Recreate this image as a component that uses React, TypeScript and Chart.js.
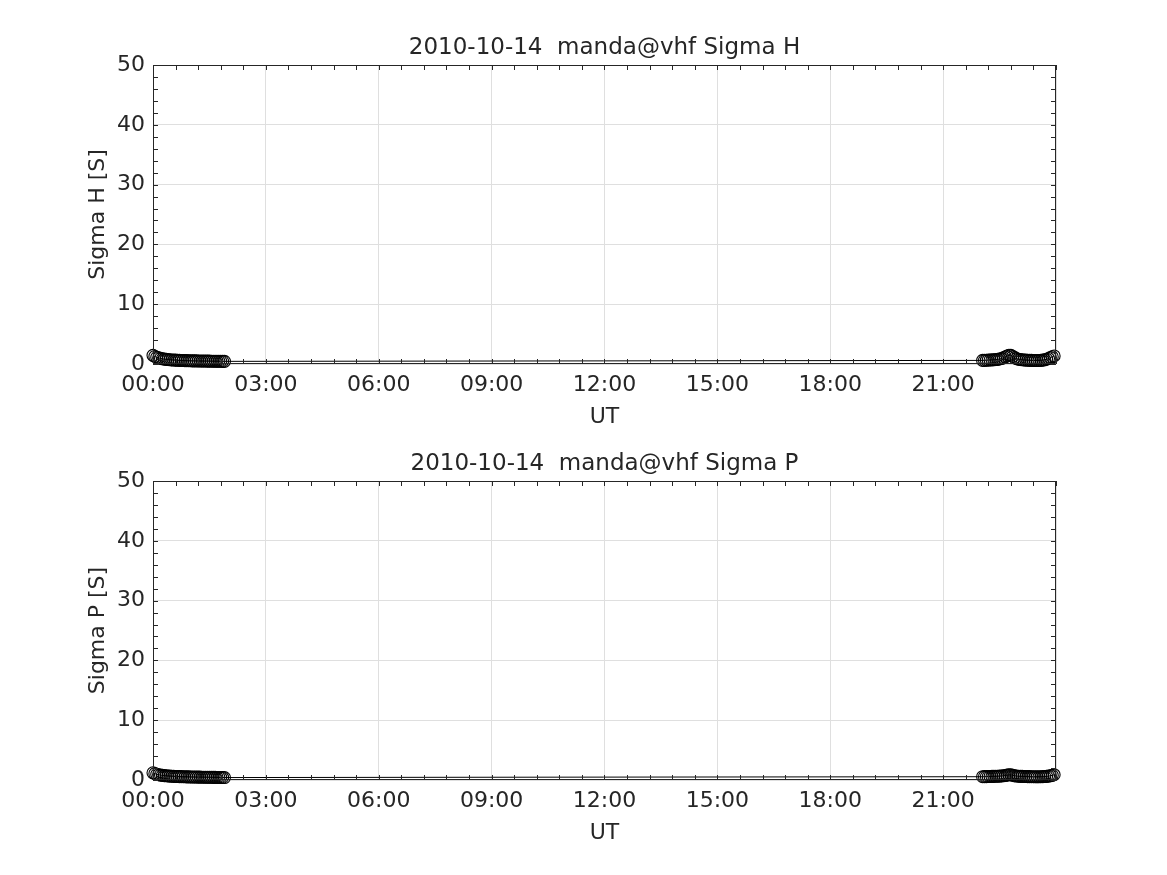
import React, { useEffect, useRef } from "react";
import { Chart, registerables } from "chart.js";

Chart.register(...registerables);

const TIMES_EARLY = [
  0.0, 0.05, 0.1, 0.15, 0.2, 0.25, 0.3, 0.35, 0.4, 0.45, 0.5, 0.55, 0.6, 0.65, 0.7, 0.75, 0.8, 0.85, 0.9, 0.95,
  1.0, 1.05, 1.1, 1.15, 1.2, 1.25, 1.3, 1.35, 1.4, 1.45, 1.5, 1.55, 1.6, 1.65, 1.7, 1.75, 1.8, 1.85, 1.9,
];
const TIMES_LATE = [
  22.05, 22.1, 22.15, 22.2, 22.25, 22.3, 22.35, 22.4, 22.45, 22.5, 22.55, 22.6, 22.65, 22.7, 22.75, 22.8, 22.85,
  22.9, 22.95, 23.0, 23.05, 23.1, 23.15, 23.2, 23.25, 23.3, 23.35, 23.4, 23.45, 23.5, 23.55, 23.6, 23.65, 23.7,
  23.75, 23.8, 23.85, 23.9, 23.95,
];

const SIGMA_H_EARLY = [
  1.45, 1.26, 1.12, 1.02, 0.94, 0.87, 0.82, 0.78, 0.74, 0.71, 0.68, 0.66, 0.64, 0.62, 0.6, 0.59, 0.58, 0.57, 0.56,
  0.55, 0.54, 0.53, 0.52, 0.52, 0.51, 0.5, 0.5, 0.49, 0.49, 0.48, 0.48, 0.47, 0.47, 0.46, 0.46, 0.45, 0.45, 0.44,
  0.44,
];
const SIGMA_H_LATE = [
  0.6, 0.61, 0.63, 0.65, 0.67, 0.69, 0.71, 0.74, 0.78, 0.84, 0.92, 1.04, 1.18, 1.34, 1.46, 1.44, 1.26, 1.06, 0.9,
  0.8, 0.74, 0.7, 0.67, 0.65, 0.63, 0.61, 0.6, 0.59, 0.58, 0.58, 0.59, 0.61, 0.65, 0.71, 0.8, 0.92, 1.06, 1.2, 1.35,
];
const SIGMA_P_EARLY = [
  1.2, 1.06, 0.96, 0.88, 0.82, 0.77, 0.73, 0.7, 0.67, 0.65, 0.63, 0.61, 0.59, 0.58, 0.57, 0.56, 0.55, 0.54, 0.53,
  0.52, 0.51, 0.5, 0.5, 0.49, 0.48, 0.48, 0.47, 0.47, 0.46, 0.46, 0.45, 0.45, 0.44, 0.44, 0.43, 0.43, 0.42, 0.42,
  0.41,
];
const SIGMA_P_LATE = [
  0.55, 0.56, 0.57, 0.58, 0.59, 0.6, 0.61, 0.62, 0.63, 0.65, 0.67, 0.7, 0.75, 0.81, 0.88, 0.87, 0.79, 0.71, 0.66,
  0.63, 0.61, 0.6, 0.59, 0.58, 0.57, 0.56, 0.55, 0.55, 0.54, 0.54, 0.54, 0.55, 0.56, 0.58, 0.61, 0.65, 0.71, 0.78,
  0.88,
];

const X_MIN = 0;
const X_MAX = 24;
const X_STEP = 3;
const X_MINOR = 0.6;
const Y_MIN = 0;
const Y_MAX = 50;
const Y_STEP = 10;
const Y_MINOR = 2;

const AXIS_COLOR = "#262626";
const GRID_COLOR = "#dfdfdf";
const FONT = "'DejaVu Sans', sans-serif";

function fmtHour(v: number): string {
  const h = Math.round(v);
  if (h >= 24) return "";
  return (h < 10 ? "0" : "") + h + ":00";
}

function buildPoints(times: number[], values: number[]) {
  return times.map((t, i) => ({ x: t, y: values[i] }));
}

const decorPlugin = {
  id: "decor",
  afterDraw(chart: any, _args: any, opts: any) {
    const { ctx, chartArea } = chart;
    const { left, right, top, bottom } = chartArea;
    const xs = chart.scales.x;
    const ys = chart.scales.y;
    ctx.save();
    ctx.strokeStyle = AXIS_COLOR;
    ctx.lineWidth = 1;
    ctx.beginPath();
    ctx.rect(left + 0.5, top + 0.5, right - left - 1, bottom - top - 1);
    ctx.stroke();
    const tl = 5;
    ctx.beginPath();
    for (let v = X_MIN; v <= X_MAX + 1e-9; v += X_MINOR) {
      const px = Math.round(xs.getPixelForValue(v)) + 0.5;
      ctx.moveTo(px, bottom);
      ctx.lineTo(px, bottom - tl);
      ctx.moveTo(px, top);
      ctx.lineTo(px, top + tl);
    }
    for (let v = Y_MIN; v <= Y_MAX + 1e-9; v += Y_MINOR) {
      const py = Math.round(ys.getPixelForValue(v)) + 0.5;
      ctx.moveTo(left, py);
      ctx.lineTo(left + tl, py);
      ctx.moveTo(right, py);
      ctx.lineTo(right - tl, py);
    }
    ctx.stroke();
    ctx.fillStyle = AXIS_COLOR;
    ctx.textAlign = "center";
    ctx.font = "23px " + FONT;
    ctx.textBaseline = "bottom";
    ctx.fillText(opts.title, (left + right) / 2, top - 5);
    ctx.font = "22px " + FONT;
    ctx.textBaseline = "middle";
    ctx.fillText("UT", (left + right) / 2, bottom + 53);
    ctx.translate(left - 55, (top + bottom) / 2);
    ctx.rotate(-Math.PI / 2);
    ctx.fillText(opts.ylabel, 0, 0);
    ctx.restore();
  },
};

function Panel({ early, late, title, ylabel, top }: any) {
  const ref = useRef<HTMLCanvasElement | null>(null);
  useEffect(() => {
    if (!ref.current) return;
    const chart = new Chart(ref.current, {
      type: "scatter",
      data: {
        datasets: [
          {
            data: [...buildPoints(TIMES_EARLY, early), ...buildPoints(TIMES_LATE, late)],
            showLine: true,
            borderColor: "#000000",
            borderWidth: 1,
            pointRadius: 6,
            pointHoverRadius: 6,
            pointBorderWidth: 1.1,
            pointBorderColor: "#000000",
            pointBackgroundColor: "rgba(0,0,0,0)",
            pointStyle: "circle",
            clip: false as any,
          },
        ],
      },
      options: {
        responsive: false,
        animation: false,
        events: [],
        layout: { padding: { top: 65, left: 0, right: 111, bottom: 0 } },
        plugins: {
          legend: { display: false },
          tooltip: { enabled: false },
          decor: { title, ylabel },
        } as any,
        scales: {
          x: {
            type: "linear",
            min: X_MIN,
            max: X_MAX,
            afterFit: (s: any) => {
              s.height = 73;
            },
            ticks: {
              stepSize: X_STEP,
              autoSkip: false,
              maxRotation: 0,
              padding: 8,
              color: AXIS_COLOR,
              font: { family: FONT, size: 22 },
              callback: (v: any) => fmtHour(Number(v)),
            },
            grid: { color: GRID_COLOR, drawTicks: false },
            border: { display: false },
          },
          y: {
            type: "linear",
            min: Y_MIN,
            max: Y_MAX,
            afterFit: (s: any) => {
              s.width = 153;
            },
            ticks: {
              stepSize: Y_STEP,
              padding: 8,
              color: AXIS_COLOR,
              font: { family: FONT, size: 22 },
            },
            grid: { color: GRID_COLOR, drawTicks: false },
            border: { display: false },
          },
        },
      },
      plugins: [decorPlugin],
    });
    return () => chart.destroy();
  }, []);
  return (
    <canvas
      ref={ref}
      width={1167}
      height={437}
      style={{ position: "absolute", left: 0, top, width: 1167, height: 437 }}
    />
  );
}

export default function App() {
  return (
    <div style={{ position: "absolute", left: 0, top: 0, width: 1167, height: 875, background: "#ffffff" }}>
      <Panel early={SIGMA_H_EARLY} late={SIGMA_H_LATE} title="2010-10-14  manda@vhf Sigma H" ylabel="Sigma H [S]" top={0} />
      <Panel early={SIGMA_P_EARLY} late={SIGMA_P_LATE} title="2010-10-14  manda@vhf Sigma P" ylabel="Sigma P [S]" top={416} />
    </div>
  );
}
